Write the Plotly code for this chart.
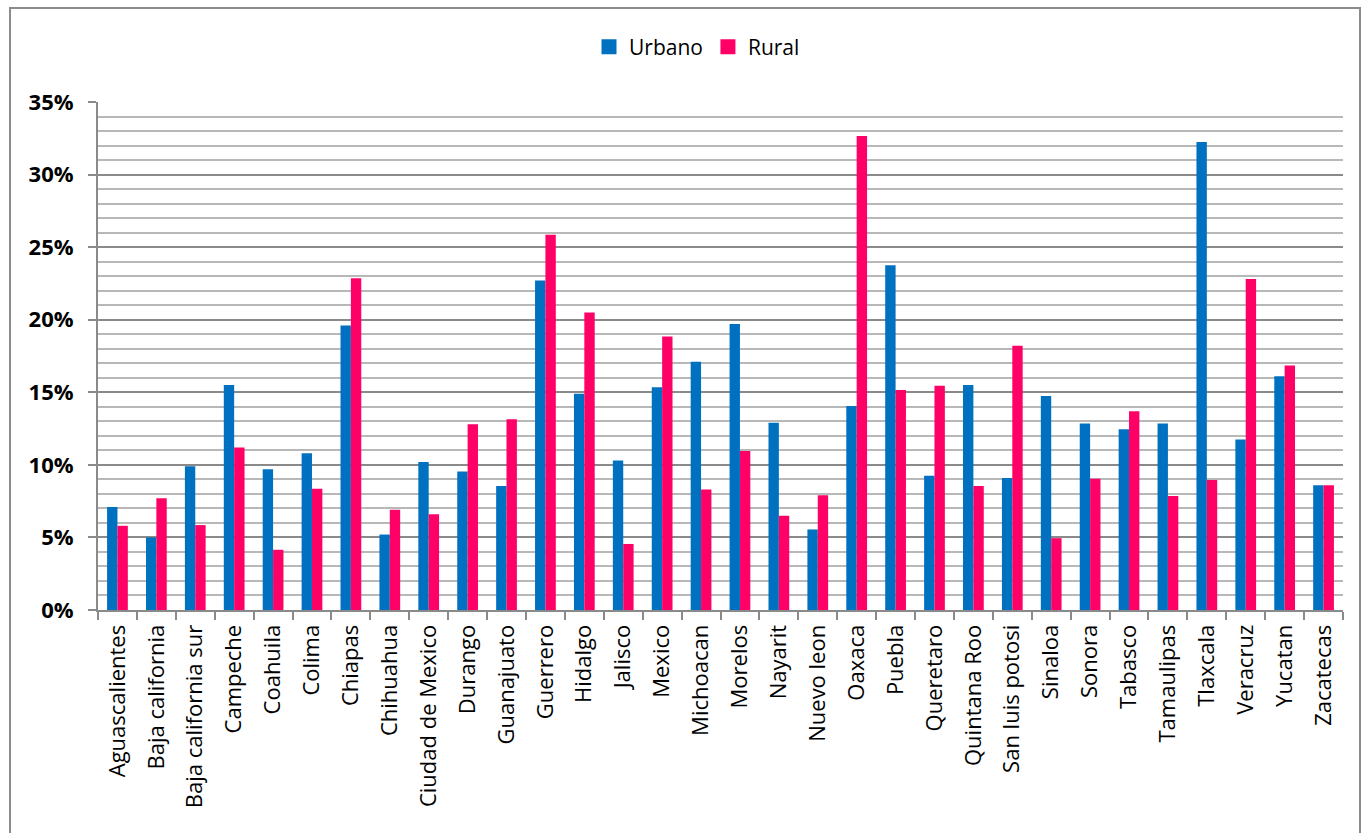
import plotly.graph_objects as go

# Entidades federativas
estados = [
    "Aguascalientes", "Baja california", "Baja california sur", "Campeche",
    "Coahuila", "Colima", "Chiapas", "Chihuahua", "Ciudad de Mexico",
    "Durango", "Guanajuato", "Guerrero", "Hidalgo", "Jalisco", "Mexico",
    "Michoacan", "Morelos", "Nayarit", "Nuevo leon", "Oaxaca", "Puebla",
    "Queretaro", "Quintana Roo", "San luis potosi", "Sinaloa", "Sonora",
    "Tabasco", "Tamaulipas", "Tlaxcala", "Veracruz", "Yucatan", "Zacatecas",
]

# Porcentajes por ámbito
urbano = [
    7.1, 5.0, 9.9, 15.5, 9.7, 10.8, 19.6, 5.2, 10.2, 9.55, 8.55, 22.7,
    14.9, 10.3, 15.35, 17.1, 19.7, 12.9, 5.55, 14.05, 23.75, 9.25, 15.5,
    9.1, 14.75, 12.85, 12.45, 12.85, 32.25, 11.75, 16.1, 8.6,
]
rural = [
    5.8, 7.7, 5.85, 11.2, 4.15, 8.35, 22.85, 6.9, 6.6, 12.8, 13.15, 25.85,
    20.5, 4.55, 18.85, 8.3, 10.95, 6.5, 7.9, 32.65, 15.15, 15.45, 8.55,
    18.2, 4.95, 9.05, 13.7, 7.85, 8.95, 22.8, 16.85, 8.6,
]

series = [("Urbano", urbano, "#0070C0"), ("Rural", rural, "#FF0066")]

FONT = "Open Sans"
W, H = 1361, 833
ML, MR, MT, MB = 98, 18, 102, 223
PW, PH = W - ML - MR, H - MT - MB


def px_x(p):
    return (p - ML) / PW


def px_y(p):
    return (H - MB - p) / PH


fig = go.Figure()
for name, vals, color in series:
    fig.add_trace(go.Bar(name=name, x=estados, y=vals, marker_color=color,
                         marker_line_width=0, showlegend=False))
# Legend entries with larger square keys
for name, vals, color in series:
    fig.add_trace(go.Scatter(name=name, x=[None], y=[None], mode="markers",
                             marker=dict(symbol="square", size=15, color=color)))

fig.update_layout(
    width=W, height=H,
    margin=dict(l=ML, r=MR, t=MT, b=MB),
    paper_bgcolor="white", plot_bgcolor="white",
    barmode="group", bargap=0.467, bargroupgap=0,
    font=dict(family=FONT, color="black"),
    legend=dict(orientation="h", x=px_x(697), y=px_y(47), xanchor="center",
                yanchor="middle", font=dict(size=21, family=FONT),
                itemwidth=30, tracegroupgap=0),
    showlegend=True,
)

fig.update_yaxes(
    range=[0, 35], dtick=5, ticksuffix="%",
    tickfont=dict(size=22, family=FONT, weight="bold"),
    showgrid=True, gridcolor="#8a8a8a", gridwidth=2,
    minor=dict(dtick=1, showgrid=True, gridcolor="#b8b8b8", gridwidth=2),
    showline=True, linecolor="#8a8a8a", linewidth=2,
    ticks="outside", ticklen=8, tickcolor="#8a8a8a", tickwidth=2,
    zeroline=False, ticklabelstandoff=10,
)
fig.update_xaxes(
    tickangle=-90, tickfont=dict(size=22, family=FONT),
    showline=True, linecolor="#8a8a8a", linewidth=2,
    ticks="outside", ticklen=8, tickcolor="#8a8a8a", tickwidth=2,
    tickson="boundaries", showgrid=False, ticklabelstandoff=4,
)

# Marco exterior del gráfico
fig.add_shape(type="rect", xref="paper", yref="paper",
              x0=px_x(10), x1=px_x(1360), y0=px_y(860), y1=px_y(8),
              line=dict(color="#8c8c8c", width=2), fillcolor="rgba(0,0,0,0)",
              layer="below")

fig.write_html("out.html")
